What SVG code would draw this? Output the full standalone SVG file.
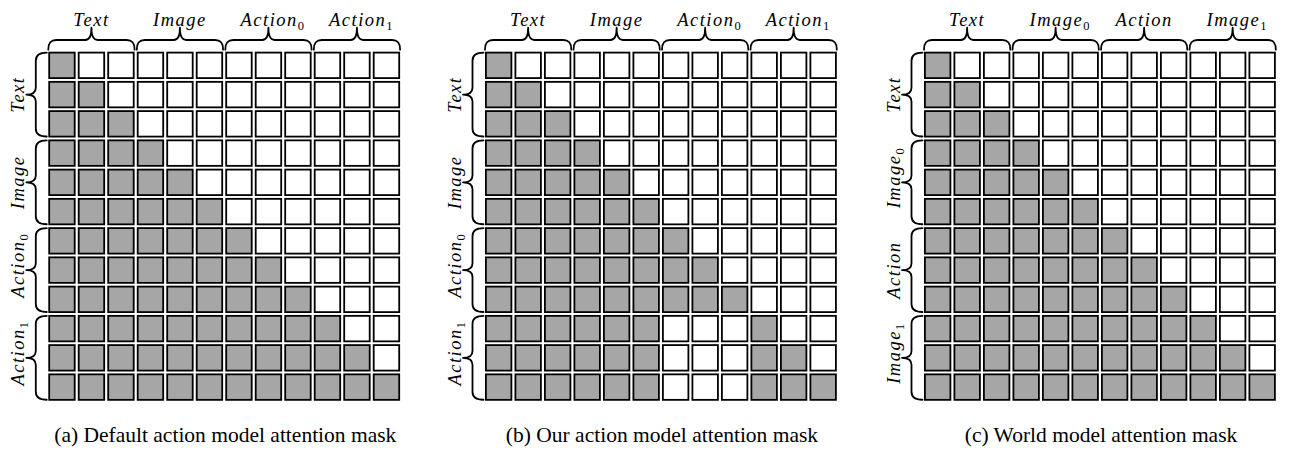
<svg xmlns="http://www.w3.org/2000/svg" xmlns:xlink="http://www.w3.org/1999/xlink" width="1300" height="453" viewBox="0 0 1300 453">
<style>
.lbl{font-family:"Liberation Serif","Times New Roman",serif;font-style:italic;font-size:18.5px;letter-spacing:1.5px;fill:#000;text-anchor:middle}
.sub{font-family:"Liberation Serif","Times New Roman",serif;font-style:normal;font-size:12.5px;letter-spacing:0}
.cap{font-family:"Liberation Serif","Times New Roman",serif;font-size:21.5px;fill:#000;text-anchor:middle}
.brace{fill:none;stroke:#000;stroke-width:1.8;stroke-linecap:round;stroke-linejoin:round}
</style>
<defs>
<rect id="g" x="0.9" y="0.9" width="25.5" height="25.5" fill="#a6a6a6" stroke="#000" stroke-width="1.8"/>
<rect id="w" x="0.9" y="0.9" width="25.5" height="25.5" fill="#fff" stroke="#000" stroke-width="1.8"/>
<path id="tb" class="brace" d="M0,-2 C0,-8.5 2,-11.7 8,-11.7 L37,-11.7 C40.5,-11.7 43.15,-14.5 43.15,-24 C43.15,-14.5 45.8,-11.7 49.3,-11.7 L78.3,-11.7 C84.3,-11.7 86.3,-8.5 86.3,-2"/>
<path id="lb" class="brace" d="M-1.5,1 C-8,1 -12.5,3 -12.5,9 L-12.5,36 C-12.5,40 -15,42.9 -22,42.9 C-15,42.9 -12.5,45.8 -12.5,49.8 L-12.5,76.8 C-12.5,82.8 -8,84.8 -1.5,84.8"/>
<g id="r0"><use href="#g"/><use href="#w" x="29.5"/><use href="#w" x="59"/><use href="#w" x="88.5"/><use href="#w" x="118"/><use href="#w" x="147.5"/><use href="#w" x="177"/><use href="#w" x="206.5"/><use href="#w" x="236"/><use href="#w" x="265.5"/><use href="#w" x="295"/><use href="#w" x="324.5"/></g>
<g id="r1"><use href="#g"/><use href="#g" x="29.5"/><use href="#w" x="59"/><use href="#w" x="88.5"/><use href="#w" x="118"/><use href="#w" x="147.5"/><use href="#w" x="177"/><use href="#w" x="206.5"/><use href="#w" x="236"/><use href="#w" x="265.5"/><use href="#w" x="295"/><use href="#w" x="324.5"/></g>
<g id="r2"><use href="#g"/><use href="#g" x="29.5"/><use href="#g" x="59"/><use href="#w" x="88.5"/><use href="#w" x="118"/><use href="#w" x="147.5"/><use href="#w" x="177"/><use href="#w" x="206.5"/><use href="#w" x="236"/><use href="#w" x="265.5"/><use href="#w" x="295"/><use href="#w" x="324.5"/></g>
<g id="r3"><use href="#g"/><use href="#g" x="29.5"/><use href="#g" x="59"/><use href="#g" x="88.5"/><use href="#w" x="118"/><use href="#w" x="147.5"/><use href="#w" x="177"/><use href="#w" x="206.5"/><use href="#w" x="236"/><use href="#w" x="265.5"/><use href="#w" x="295"/><use href="#w" x="324.5"/></g>
<g id="r4"><use href="#g"/><use href="#g" x="29.5"/><use href="#g" x="59"/><use href="#g" x="88.5"/><use href="#g" x="118"/><use href="#w" x="147.5"/><use href="#w" x="177"/><use href="#w" x="206.5"/><use href="#w" x="236"/><use href="#w" x="265.5"/><use href="#w" x="295"/><use href="#w" x="324.5"/></g>
<g id="r5"><use href="#g"/><use href="#g" x="29.5"/><use href="#g" x="59"/><use href="#g" x="88.5"/><use href="#g" x="118"/><use href="#g" x="147.5"/><use href="#w" x="177"/><use href="#w" x="206.5"/><use href="#w" x="236"/><use href="#w" x="265.5"/><use href="#w" x="295"/><use href="#w" x="324.5"/></g>
<g id="r6"><use href="#g"/><use href="#g" x="29.5"/><use href="#g" x="59"/><use href="#g" x="88.5"/><use href="#g" x="118"/><use href="#g" x="147.5"/><use href="#g" x="177"/><use href="#w" x="206.5"/><use href="#w" x="236"/><use href="#w" x="265.5"/><use href="#w" x="295"/><use href="#w" x="324.5"/></g>
<g id="r7"><use href="#g"/><use href="#g" x="29.5"/><use href="#g" x="59"/><use href="#g" x="88.5"/><use href="#g" x="118"/><use href="#g" x="147.5"/><use href="#g" x="177"/><use href="#g" x="206.5"/><use href="#w" x="236"/><use href="#w" x="265.5"/><use href="#w" x="295"/><use href="#w" x="324.5"/></g>
<g id="r8"><use href="#g"/><use href="#g" x="29.5"/><use href="#g" x="59"/><use href="#g" x="88.5"/><use href="#g" x="118"/><use href="#g" x="147.5"/><use href="#g" x="177"/><use href="#g" x="206.5"/><use href="#g" x="236"/><use href="#w" x="265.5"/><use href="#w" x="295"/><use href="#w" x="324.5"/></g>
<g id="r9"><use href="#g"/><use href="#g" x="29.5"/><use href="#g" x="59"/><use href="#g" x="88.5"/><use href="#g" x="118"/><use href="#g" x="147.5"/><use href="#g" x="177"/><use href="#g" x="206.5"/><use href="#g" x="236"/><use href="#g" x="265.5"/><use href="#w" x="295"/><use href="#w" x="324.5"/></g>
<g id="r10"><use href="#g"/><use href="#g" x="29.5"/><use href="#g" x="59"/><use href="#g" x="88.5"/><use href="#g" x="118"/><use href="#g" x="147.5"/><use href="#g" x="177"/><use href="#g" x="206.5"/><use href="#g" x="236"/><use href="#g" x="265.5"/><use href="#g" x="295"/><use href="#w" x="324.5"/></g>
<g id="r11"><use href="#g"/><use href="#g" x="29.5"/><use href="#g" x="59"/><use href="#g" x="88.5"/><use href="#g" x="118"/><use href="#g" x="147.5"/><use href="#g" x="177"/><use href="#g" x="206.5"/><use href="#g" x="236"/><use href="#g" x="265.5"/><use href="#g" x="295"/><use href="#g" x="324.5"/></g>
<g id="b9"><use href="#g"/><use href="#g" x="29.5"/><use href="#g" x="59"/><use href="#g" x="88.5"/><use href="#g" x="118"/><use href="#g" x="147.5"/><use href="#w" x="177"/><use href="#w" x="206.5"/><use href="#w" x="236"/><use href="#g" x="265.5"/><use href="#w" x="295"/><use href="#w" x="324.5"/></g>
<g id="b10"><use href="#g"/><use href="#g" x="29.5"/><use href="#g" x="59"/><use href="#g" x="88.5"/><use href="#g" x="118"/><use href="#g" x="147.5"/><use href="#w" x="177"/><use href="#w" x="206.5"/><use href="#w" x="236"/><use href="#g" x="265.5"/><use href="#g" x="295"/><use href="#w" x="324.5"/></g>
<g id="b11"><use href="#g"/><use href="#g" x="29.5"/><use href="#g" x="59"/><use href="#g" x="88.5"/><use href="#g" x="118"/><use href="#g" x="147.5"/><use href="#w" x="177"/><use href="#w" x="206.5"/><use href="#w" x="236"/><use href="#g" x="265.5"/><use href="#g" x="295"/><use href="#g" x="324.5"/></g>
<g id="tbs"><use href="#tb"/><use href="#tb" x="88.5"/><use href="#tb" x="177"/><use href="#tb" x="265.5"/></g>
<g id="lbs"><use href="#lb"/><use href="#lb" y="87.75"/><use href="#lb" y="175.5"/><use href="#lb" y="263.25"/></g>
</defs>
<rect width="1300" height="453" fill="#fff"/>

<g id="panel-a" transform="translate(48.3,51.7)">
<g id="a-grid">
<use href="#r0"/><use href="#r1" y="29.25"/><use href="#r2" y="58.5"/><use href="#r3" y="87.75"/><use href="#r4" y="117"/><use href="#r5" y="146.25"/><use href="#r6" y="175.5"/><use href="#r7" y="204.75"/><use href="#r8" y="234"/><use href="#r9" y="263.25"/><use href="#r10" y="292.5"/><use href="#r11" y="321.75"/>
</g>
<g id="a-braces"><use href="#tbs"/><use href="#lbs"/></g>
<g id="a-labels">
<text class="lbl" x="43.15" y="-25.7">Text</text>
<text class="lbl" x="131.65" y="-25.7">Image</text>
<text class="lbl" x="224" y="-25.7">Action<tspan class="sub" dy="4">0</tspan></text>
<text class="lbl" x="312.5" y="-25.7">Action<tspan class="sub" dy="4">1</tspan></text>
<text class="lbl" transform="translate(-24,42.9) rotate(-90)">Text</text>
<text class="lbl" transform="translate(-24,130.65) rotate(-90)">Image</text>
<text class="lbl" transform="translate(-24,218.4) rotate(-90)" x="4">Action<tspan class="sub" dy="4">0</tspan></text>
<text class="lbl" transform="translate(-24,306.15) rotate(-90)" x="4">Action<tspan class="sub" dy="4">1</tspan></text>
</g>
</g>

<g id="panel-b" transform="translate(485,51.7)">
<g id="b-grid">
<use href="#r0"/><use href="#r1" y="29.25"/><use href="#r2" y="58.5"/><use href="#r3" y="87.75"/><use href="#r4" y="117"/><use href="#r5" y="146.25"/><use href="#r6" y="175.5"/><use href="#r7" y="204.75"/><use href="#r8" y="234"/><use href="#b9" y="263.25"/><use href="#b10" y="292.5"/><use href="#b11" y="321.75"/>
</g>
<g id="b-braces"><use href="#tbs"/><use href="#lbs"/></g>
<g id="b-labels">
<text class="lbl" x="43.15" y="-25.7">Text</text>
<text class="lbl" x="131.65" y="-25.7">Image</text>
<text class="lbl" x="224" y="-25.7">Action<tspan class="sub" dy="4">0</tspan></text>
<text class="lbl" x="312.5" y="-25.7">Action<tspan class="sub" dy="4">1</tspan></text>
<text class="lbl" transform="translate(-24,42.9) rotate(-90)">Text</text>
<text class="lbl" transform="translate(-24,130.65) rotate(-90)">Image</text>
<text class="lbl" transform="translate(-24,218.4) rotate(-90)" x="4">Action<tspan class="sub" dy="4">0</tspan></text>
<text class="lbl" transform="translate(-24,306.15) rotate(-90)" x="4">Action<tspan class="sub" dy="4">1</tspan></text>
</g>
</g>

<g id="panel-c" transform="translate(924,51.7)">
<g id="c-grid">
<use href="#r0"/><use href="#r1" y="29.25"/><use href="#r2" y="58.5"/><use href="#r3" y="87.75"/><use href="#r4" y="117"/><use href="#r5" y="146.25"/><use href="#r6" y="175.5"/><use href="#r7" y="204.75"/><use href="#r8" y="234"/><use href="#r9" y="263.25"/><use href="#r10" y="292.5"/><use href="#r11" y="321.75"/>
</g>
<g id="c-braces"><use href="#tbs"/><use href="#lbs"/></g>
<g id="c-labels">
<text class="lbl" x="43.15" y="-25.7">Text</text>
<text class="lbl" x="135.5" y="-25.7">Image<tspan class="sub" dy="4">0</tspan></text>
<text class="lbl" x="220.15" y="-25.7">Action</text>
<text class="lbl" x="312.5" y="-25.7">Image<tspan class="sub" dy="4">1</tspan></text>
<text class="lbl" transform="translate(-24,42.9) rotate(-90)">Text</text>
<text class="lbl" transform="translate(-24,130.65) rotate(-90)" x="4">Image<tspan class="sub" dy="4">0</tspan></text>
<text class="lbl" transform="translate(-24,218.4) rotate(-90)">Action</text>
<text class="lbl" transform="translate(-24,306.15) rotate(-90)" x="4">Image<tspan class="sub" dy="4">1</tspan></text>
</g>
</g>

<g id="captions">
<text class="cap" x="225.3" y="442">(a) Default action model attention mask</text>
<text class="cap" x="662" y="442">(b) Our action model attention mask</text>
<text class="cap" x="1101" y="442">(c) World model attention mask</text>
</g>
</svg>
